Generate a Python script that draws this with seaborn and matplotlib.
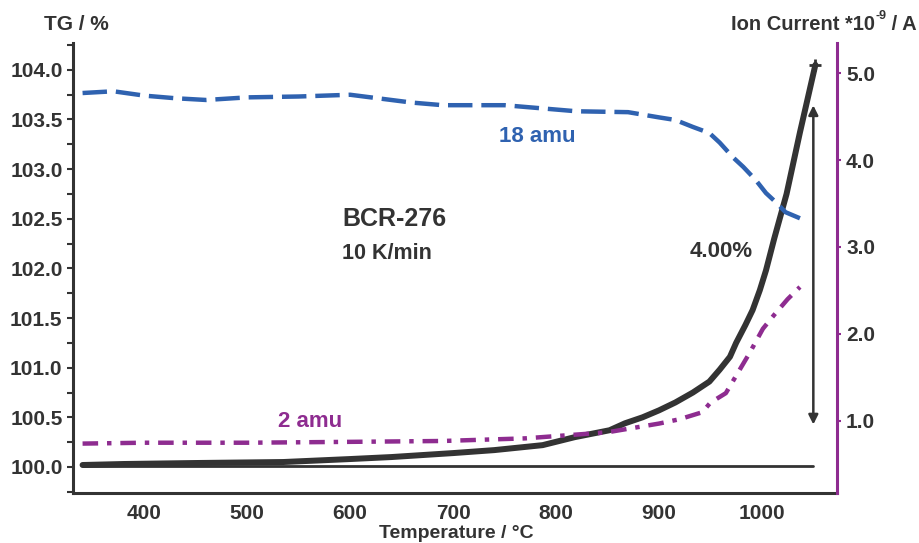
import numpy as np
import pandas as pd
import matplotlib
matplotlib.use("Agg")
import matplotlib.pyplot as plt
from matplotlib.ticker import MultipleLocator, FormatStrFormatter
import seaborn as sns

# TG curve (left axis, %)
tg_temp = [340, 380, 450, 535, 600, 640, 700, 740, 787, 818, 852, 867, 884,
           900, 916, 933, 949, 959, 969, 975, 984, 991, 998, 1004, 1012, 1024,
           1037, 1052]
tg_mass = [100.02, 100.03, 100.04, 100.05, 100.08, 100.10, 100.14, 100.17,
           100.22, 100.30, 100.37, 100.44, 100.50, 100.57, 100.65, 100.75,
           100.86, 100.98, 101.11, 101.25, 101.43, 101.58, 101.78, 101.98,
           102.30, 102.75, 103.37, 104.05]
base_temp = [340, 1050]
base_mass = [100.01, 100.01]

# ion current (right axis, *1e-9 A)
amu18_temp = [340, 370, 400, 430, 460, 500, 550, 600, 620, 660, 690, 750, 780,
              820, 870, 900, 916, 933, 949, 959, 972, 982, 994, 1004, 1014,
              1023, 1037]
amu18_ion = [4.77, 4.79, 4.74, 4.71, 4.69, 4.72, 4.73, 4.75, 4.72, 4.66, 4.63,
             4.63, 4.60, 4.56, 4.55, 4.49, 4.46, 4.38, 4.31, 4.20, 4.03, 3.92,
             3.77, 3.62, 3.51, 3.40, 3.33]
amu2_temp = [340, 400, 500, 600, 690, 770, 850, 900, 920, 942, 950, 965, 975,
             988, 1001, 1012, 1025, 1037]
amu2_ion = [0.74, 0.75, 0.75, 0.76, 0.77, 0.80, 0.87, 0.97, 1.02, 1.10, 1.21,
            1.32, 1.52, 1.78, 2.06, 2.22, 2.40, 2.54]

x_ticks = [400, 500, 600, 700, 800, 900, 1000]
ion_ticks = [1.0, 2.0, 3.0, 4.0, 5.0]

dark = "#333333"
blue = "#2F62B0"
purple = "#8E2C90"

sns.set_style("white")
plt.rcParams["font.family"] = ["Liberation Sans", "DejaVu Sans"]
plt.rcParams["font.weight"] = "bold"

fig = plt.figure(figsize=(9.19, 5.43), dpi=100)
ax = fig.add_axes([73 / 919, 1 - 493 / 543, (837 - 73) / 919, (493 - 43) / 543])
ax2 = ax.twinx()

sns.lineplot(x=base_temp, y=base_mass, ax=ax, color=dark, lw=2)
sns.lineplot(x=tg_temp, y=tg_mass, ax=ax, color=dark, lw=4.3,
             marker="+", markevery=[len(tg_temp) - 1], markersize=9, mew=2,
             mec=dark)
sns.lineplot(x=amu18_temp, y=amu18_ion, ax=ax2, color=blue, lw=3.2,
             linestyle=(0, (5.5, 2)))
sns.lineplot(x=amu2_temp, y=amu2_ion, ax=ax2, color=purple, lw=3.2,
             linestyle=(0, (3.5, 2, 1, 2)))

ax.set_xlim(330.7, 1073)
ax.set_ylim(99.738, 104.27)
ax2.set_ylim(0.172, 5.345)

ax.set_xticks(x_ticks)
ax.yaxis.set_major_locator(MultipleLocator(0.5))
ax.yaxis.set_minor_locator(MultipleLocator(0.25))
ax.yaxis.set_major_formatter(FormatStrFormatter("%.1f"))
ax2.set_yticks(ion_ticks)
ax2.yaxis.set_major_formatter(FormatStrFormatter("%.1f"))

for s in ["top", "right"]:
    ax.spines[s].set_visible(False)
for s in ["top", "left", "bottom"]:
    ax2.spines[s].set_visible(False)
ax.spines["left"].set_color(dark)
ax.spines["bottom"].set_color(dark)
ax.spines["left"].set_linewidth(2.2)
ax.spines["bottom"].set_linewidth(2.2)
ax2.spines["right"].set_color(purple)
ax2.spines["right"].set_linewidth(2.2)

ax.tick_params(axis="both", which="both", colors=dark, labelsize=15,
               direction="out", width=1.5)
ax.tick_params(axis="y", which="major", length=4)
ax.tick_params(axis="y", which="minor", length=4, left=True)
ax.tick_params(axis="x", length=3, pad=5)
ax2.tick_params(axis="y", colors=purple, labelcolor=dark, labelsize=15,
                direction="out", length=3, width=1.5)
for lab in ax.get_xticklabels() + ax.get_yticklabels() + ax2.get_yticklabels():
    lab.set_fontweight("bold")

ax.set_xlabel("")
ax.set_ylabel("")
ax2.set_ylabel("")

fig.text(76 / 919, 1 - 25 / 543, "TG / %", ha="center", va="center",
         fontsize=15, color=dark, fontweight="bold")

# right axis title with a small raised "-9"
t1 = fig.text(731 / 919, 1 - 25 / 543, "Ion Current *10", ha="left",
              va="center", fontsize=14.5, color=dark, fontweight="bold")
sup = ax.annotate("-9", xy=(1, 0.95), xycoords=t1, ha="left", va="center",
                  fontsize=9, color=dark, fontweight="bold",
                  annotation_clip=False)
ax.annotate(" / A", xy=(1, 0.5), xycoords=(sup, t1), ha="left", va="center",
            fontsize=14.5, color=dark, fontweight="bold",
            annotation_clip=False)

fig.text(456 / 919, 1 / 543, "Temperature / °C", ha="center",
         va="bottom", fontsize=14, color=dark, fontweight="bold")

ax.text(592, 102.50, "BCR-276", fontsize=18, color=dark, fontweight="bold",
        va="center")
ax.text(592, 102.15, "10 K/min", fontsize=15.5, color=dark, fontweight="bold",
        va="center")
ax2.text(745, 4.27, "18 amu", fontsize=16, color=blue,
         fontweight="bold", va="center")
ax2.text(530, 0.99, "2 amu", fontsize=16, color=purple, fontweight="bold",
         va="center")
ax.text(930, 102.17, "4.00%", fontsize=16, color=dark, fontweight="bold",
        va="center")

ax.annotate("", xy=(1050, 103.67), xytext=(1050, 100.40),
            arrowprops=dict(arrowstyle="<|-|>", color=dark, lw=1.8,
                            mutation_scale=14))

fig.savefig("out.png", dpi=100)
